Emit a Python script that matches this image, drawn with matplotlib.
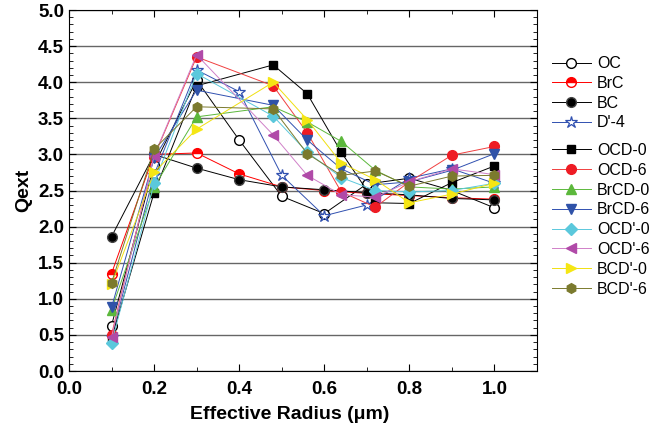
import matplotlib
matplotlib.use('Agg')
import matplotlib.pyplot as plt
import numpy as np
from matplotlib.ticker import MultipleLocator

plt.rcParams['font.family'] = ['Liberation Sans', 'DejaVu Sans']

# Radius grids (two sets of sampling points)
x_a = [0.1, 0.2, 0.3, 0.4, 0.5, 0.6, 0.7, 0.8, 0.9, 1.0]
x_b = [0.1, 0.2, 0.3, 0.48, 0.56, 0.64, 0.72, 0.8, 0.9, 1.0]

# Qext values
oc = [0.63, 2.85, 4.03, 3.20, 2.42, 2.18, 2.59, 2.67, 2.50, 2.26]
brc = [1.35, 3.00, 3.02, 2.73, 2.55, 2.50, 2.46, 2.43, 2.40, 2.38]
bc = [1.86, 3.00, 2.81, 2.65, 2.55, 2.51, 2.47, 2.44, 2.39, 2.37]
d4 = [0.47, 2.72, 4.17, 3.87, 2.71, 2.15, 2.30, 2.67, 2.80, 2.60]

ocd0 = [0.45, 2.47, 3.95, 4.24, 3.84, 3.03, 2.33, 2.32, 2.61, 2.84]
ocd6 = [0.50, 2.97, 4.35, 3.95, 3.30, 2.48, 2.27, 2.62, 2.99, 3.11]
brcd0 = [0.85, 2.55, 3.52, 3.66, 3.45, 3.18, 2.78, 2.55, 2.52, 2.55]
brcd6 = [0.88, 2.95, 3.89, 3.68, 3.20, 2.80, 2.58, 2.62, 2.78, 3.01]
ocdp0 = [0.39, 2.60, 4.12, 3.53, 3.03, 2.68, 2.50, 2.48, 2.50, 2.60]
ocdp6 = [0.47, 2.98, 4.38, 3.27, 2.71, 2.44, 2.41, 2.62, 2.80, 2.72]
bcdp0 = [1.20, 2.75, 3.35, 4.00, 3.48, 2.88, 2.65, 2.33, 2.45, 2.60]
bcdp6 = [1.22, 3.07, 3.66, 3.63, 3.01, 2.71, 2.77, 2.56, 2.70, 2.71]

fig = plt.figure(figsize=(6.52, 4.26), dpi=100)
ax = fig.add_axes([0.1058, 0.1291, 0.7178, 0.8474])

lw = 0.7
ms = 7

# group 1
h1 = []
h1 += ax.plot(x_a, oc, color='black', lw=lw, marker='o', ms=ms, mfc='white', mec='black', label='OC')
h1 += ax.plot(x_a, brc, color='red', lw=lw, marker='o', ms=ms, mfc='red', mec='red',
              fillstyle='top', markerfacecoloralt='white', label='BrC')
h1 += ax.plot(x_a, bc, color='black', lw=lw, marker='o', ms=ms, mfc='black', mec='#444444', label='BC')
h1 += ax.plot(x_a, d4, color='#3050b0', lw=lw, marker='*', ms=ms + 2, mfc='white', mec='#3050b0',
              mew=0.9, label="D'-4")

# group 2
h2 = []
h2 += ax.plot(x_b, ocd0, color='black', lw=lw, marker='s', ms=ms - 1, mfc='black', mec='black', label='OCD-0')
h2 += ax.plot(x_b, ocd6, color='#f04040', lw=lw, marker='o', ms=ms, mfc='#ee1c24', mec='#ee1c24', label='OCD-6')
h2 += ax.plot(x_b, brcd0, color='#5cb83c', lw=lw, marker='^', ms=ms, mfc='#5cb83c', mec='#5cb83c', label='BrCD-0')
h2 += ax.plot(x_b, brcd6, color='#3050b0', lw=lw, marker='v', ms=ms, mfc='#2f52a8', mec='#2f52a8', label='BrCD-6')
h2 += ax.plot(x_b, ocdp0, color='#5bc8dc', lw=lw, marker='D', ms=ms - 1, mfc='#5bc8dc', mec='#5bc8dc', label="OCD'-0")
h2 += ax.plot(x_b, ocdp6, color='#d080c8', lw=lw, marker='<', ms=ms, mfc='#b04aa8', mec='#b04aa8', label="OCD'-6")
h2 += ax.plot(x_b, bcdp0, color='#f0e010', lw=lw, marker='>', ms=ms, mfc='#f5e614', mec='#f5e614', label="BCD'-0")
h2 += ax.plot(x_b, bcdp6, color='#7b7a2e', lw=lw, marker='h', ms=ms, mfc='#7b7a2e', mec='#7b7a2e', label="BCD'-6")

ax.set_xlim(0.0, 1.1)
ax.set_ylim(0.0, 5.0)
ax.xaxis.set_major_locator(MultipleLocator(0.2))
ax.xaxis.set_minor_locator(MultipleLocator(0.1))
ax.yaxis.set_major_locator(MultipleLocator(0.5))
ax.yaxis.set_minor_locator(MultipleLocator(0.1))
ax.tick_params(which='both', direction='in', top=True, right=True, labelsize=13.5)
ax.tick_params(which='major', length=5)
ax.tick_params(which='minor', length=3)
ax.tick_params(axis='x', which='major', pad=7)
ax.set_xticks([0.0, 0.2, 0.4, 0.6, 0.8, 1.0])
ax.set_xticklabels(['0.0', '0.2', '0.4', '0.6', '0.8', '1.0'], fontweight='bold')
ax.set_yticks(np.arange(0, 5.01, 0.5))
ax.set_yticklabels([f'{v:.1f}' for v in np.arange(0, 5.01, 0.5)], fontweight='bold')
ax.yaxis.grid(True, which='major', color='#666666', lw=1.0)
ax.set_axisbelow(True)

ax.set_xlabel('Effective Radius (\u03bcm)', fontsize=14, fontweight='bold')
ax.xaxis.set_label_coords(0.472, -0.098)
ax.set_ylabel('Qext', fontsize=14, fontweight='bold')

fig.legend(handles=h1, loc='upper left', bbox_to_anchor=(0.825, 0.902), frameon=False,
           fontsize=11.5, handlelength=2.4, labelspacing=0.3, handletextpad=0.4)
fig.legend(handles=h2, loc='upper left', bbox_to_anchor=(0.825, 0.698), frameon=False,
           fontsize=11.5, handlelength=2.4, labelspacing=0.3, handletextpad=0.4)

fig.savefig('out.png', dpi=100)
